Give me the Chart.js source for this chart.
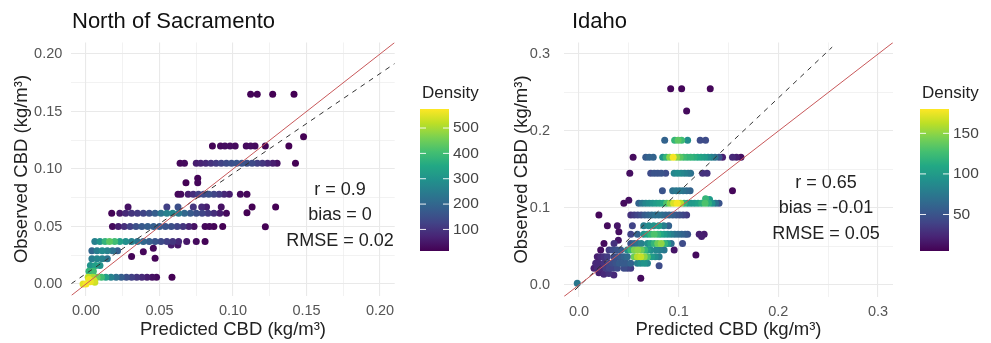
<!DOCTYPE html>
<html><head><meta charset="utf-8">
<script src="https://cdn.jsdelivr.net/npm/chart.js@4.4.1/dist/chart.umd.min.js"></script>
<style>
html,body{margin:0;padding:0;background:#fff;}
#wrap{position:relative;width:991px;height:343px;overflow:hidden;background:#fff;}
canvas{position:absolute;top:0;}
</style></head><body>
<div id="wrap">
<canvas id="c1" width="495" height="343" style="left:0;width:495px;height:343px"></canvas>
<canvas id="c2" width="496" height="343" style="left:495px;width:496px;height:343px"></canvas>
</div>
<script>
// ---------------- North of Sacramento ----------------
const nsTitle = 'North of Sacramento';
const nsStats = ['r = 0.9', 'bias = 0', 'RMSE = 0.02'];
const nsTicks = [0, 0.05, 0.10, 0.15, 0.20];
const nsLegendTicks = [100, 200, 300, 400, 500];
const nsDensityRange = [15, 575];
const nsOneToOne = [-0.01, 0.21];
const nsFitX = [-0.01, 0.21];
const nsFitY = [0.0003, 0.1917];
const nsPred = [
  0.112,0.1165,0.127,0.1415,
  0.148,
  0.086,0.0915,0.0945,0.098,0.1015,0.109,0.112,0.115,0.122,0.138,
  0.064,0.067,0.075,0.078,0.0815,0.085,0.0885,0.092,0.0955,0.099,0.1025,0.106,0.1095,0.113,0.1165,0.12,0.1235,0.127,0.130,0.1425,
  0.068,0.076,0.076,
  0.0626,0.0645,0.0695,0.073,0.0765,0.080,0.0835,0.087,0.0905,0.094,0.0975,0.105,0.1095,
  0.1095,0.113,0.129,0.122,
  0.0175,0.023,0.027,0.031,0.035,0.039,0.043,0.047,0.051,0.055,0.059,0.063,0.067,0.071,0.075,0.079,0.083,0.087,0.091,0.0955,
  0.0286,0.055,0.0626,0.073,0.0787,0.082,0.092,
  0.018,0.022,0.026,0.030,0.034,0.038,0.042,0.046,0.050,0.054,0.058,0.062,0.066,0.070,0.0735,0.081,0.084,0.087,0.093,
  0.006,0.0095,0.013,0.016,0.0195,0.023,0.027,0.031,0.035,0.039,0.043,0.047,0.051,0.055,0.059,0.063,0.0685,0.075,0.081,
  0.058,0.0625,
  0.004,0.0075,0.011,0.0145,0.018,0.0215,
  0.031,0.039,0.0458,0.047,
  0.004,0.0075,0.011,0.0145,
  0.003,0.0065,0.0095,
  0.002,0.005,
  0.0015,0.0045,0.0075,0.0105,0.0135,0.017,0.0205,0.024,0.0275,0.031,0.0345,0.038,0.0415,0.045,0.048,0.0585,
  -0.002,0.0,0.002,0.003,0.0055,0.006
];
const nsObs = [
  0.165,0.165,0.165,0.165,
  0.128,
  0.12,0.12,0.12,0.12,0.12,0.12,0.12,0.12,0.12,0.12,
  0.105,0.105,0.105,0.105,0.105,0.105,0.105,0.105,0.105,0.105,0.105,0.105,0.105,0.105,0.105,0.105,0.105,0.105,0.105,0.105,
  0.088,0.092,0.088,
  0.078,0.078,0.078,0.078,0.078,0.078,0.078,0.078,0.078,0.078,0.078,0.078,0.078,
  0.062,0.067,0.067,0.0498,
  0.0615,0.0615,0.0615,0.0615,0.0615,0.0615,0.0615,0.0615,0.0615,0.0615,0.0615,0.0615,0.0615,0.0615,0.0615,0.0615,0.0615,0.0615,0.0615,0.0615,
  0.067,0.067,0.067,0.067,0.067,0.067,0.067,
  0.050,0.050,0.050,0.050,0.050,0.050,0.050,0.050,0.050,0.050,0.050,0.050,0.050,0.050,0.050,0.050,0.050,0.050,0.050,
  0.037,0.037,0.037,0.037,0.037,0.037,0.037,0.037,0.037,0.037,0.037,0.037,0.037,0.037,0.037,0.037,0.037,0.037,0.037,
  0.034,0.034,
  0.029,0.029,0.029,0.029,0.029,0.029,
  0.024,0.028,0.031,0.0223,
  0.022,0.022,0.022,0.022,
  0.016,0.016,0.016,
  0.011,0.011,
  0.0058,0.0058,0.0058,0.0058,0.0058,0.0058,0.0058,0.0058,0.0058,0.0058,0.0058,0.0058,0.0058,0.0058,0.0058,0.0058,
  0.0,0.0,0.004,0.002,0.003,0.0015
];
const nsDensity = [
  20,20,15,12,
  10,
  20,30,35,35,30,30,35,30,20,12,
  25,30,60,70,80,95,110,125,140,150,160,160,150,140,120,100,80,60,40,15,
  15,20,25,
  25,30,60,90,120,140,150,130,110,80,60,30,25,
  15,15,12,10,
  20,50,80,100,110,130,150,180,230,260,270,240,200,170,150,130,110,90,60,30,
  40,120,150,100,80,60,40,
  30,60,90,120,150,170,180,180,170,160,150,130,100,70,40,25,25,20,12,
  260,300,380,430,400,330,290,260,230,200,180,160,140,120,100,80,50,30,20,
  60,50,
  200,250,280,260,220,180,
  20,25,25,20,
  250,270,260,230,
  300,330,300,
  380,400,
  520,500,450,400,330,260,220,180,150,120,100,80,60,40,30,12,
  550,570,560,560,540,530
];

// ---------------- Idaho ----------------
const idTitle = 'Idaho';
const idStats = ['r = 0.65', 'bias = -0.01', 'RMSE = 0.05'];
const idTicks = [0, 0.1, 0.2, 0.3];
const idLegendTicks = [50, 100, 150];
const idDensityRange = [5, 180];
const idOneToOne = [-0.015, 0.315];
const idFitX = [-0.004, 0.254];
const idFitY = [-0.0065, 0.309];
const idPred = [
  0.092,0.103,0.1317,0.108,
  0.086,0.096,0.0995,0.103,0.109,0.1216,0.127,
  0.0543,0.067,0.0705,0.0745,0.084,0.0875,0.091,0.0945,0.098,0.1015,0.105,0.1085,0.112,0.1155,0.119,0.1225,0.126,0.1295,0.133,0.1365,0.1405,0.144,0.154,0.158,0.1625,
  0.051,0.072,0.0755,0.079,0.0825,0.087,0.0955,0.099,0.1025,0.106,0.1095,0.112,0.124,0.1285,
  0.154,
  0.0837,0.094,0.0975,0.101,0.1045,0.108,0.1115,
  0.045,0.050,0.060,0.0635,0.067,0.0705,0.074,0.0775,0.081,0.0845,0.088,0.0915,0.095,0.0985,0.102,0.1055,0.109,0.1125,0.116,0.1195,0.123,0.1265,0.130,0.1335,0.137,0.1405,
  0.127,0.131,
  0.020,0.052,0.0555,0.059,0.0625,0.066,0.0695,0.073,0.0765,0.080,0.0835,0.087,0.0905,0.094,0.0975,0.101,0.1045,0.108,
  0.0285,0.0385,0.0536,0.065,0.070,0.075,0.080,0.085,0.090,
  0.040,0.052,0.0586,0.065,0.0687,0.072,0.0755,0.079,0.082,0.0855,0.089,0.0925,0.096,0.0995,0.103,0.1065,0.109,0.1206,0.1256,0.123,
  0.0251,0.0352,0.0395,0.052,0.0555,0.059,0.0625,0.0687,0.072,0.0755,0.079,0.0825,0.086,0.089,0.0925,0.1039,
  0.0218,0.0302,0.034,0.038,0.0419,0.0486,0.052,0.0555,0.059,0.0625,0.066,0.0687,0.072,0.0775,0.081,0.0854,0.0955,
  0.0184,0.0218,0.025,0.0285,0.0352,0.0385,0.042,0.0452,0.0486,0.0553,0.0586,0.062,0.0655,0.0687,0.073,0.0765,0.0804,0.1173,
  0.0168,0.0201,0.0251,0.0302,0.0335,0.037,0.0405,0.044,0.0475,0.0519,0.0586,0.062,0.0655,0.0687,0.0804,
  0.0151,0.0185,0.0218,0.027,0.0305,0.034,0.0385,0.0452,0.0486,0.0519,
  0.020,0.025,0.030,0.035,
  0.062,-0.0017
];
const idObs = [
  0.255,0.255,0.255,0.226,
  0.188,0.188,0.188,0.188,0.188,0.188,0.188,
  0.166,0.166,0.166,0.166,0.166,0.166,0.166,0.166,0.166,0.166,0.166,0.166,0.166,0.166,0.166,0.166,0.166,0.166,0.166,0.166,0.166,0.166,0.166,0.166,0.166,
  0.145,0.145,0.145,0.145,0.145,0.145,0.145,0.145,0.145,0.145,0.145,0.145,0.145,0.145,
  0.1225,
  0.1225,0.1225,0.1225,0.1225,0.1225,0.1225,0.1225,
  0.106,0.110,0.106,0.106,0.106,0.106,0.106,0.106,0.106,0.106,0.106,0.106,0.106,0.106,0.106,0.106,0.106,0.106,0.106,0.106,0.106,0.106,0.106,0.106,0.106,0.106,
  0.112,0.111,
  0.091,0.091,0.091,0.091,0.091,0.091,0.091,0.091,0.091,0.091,0.091,0.091,0.091,0.091,0.091,0.091,0.091,0.091,
  0.077,0.077,0.077,0.077,0.077,0.077,0.077,0.077,0.077,
  0.069,0.066,0.066,0.066,0.066,0.066,0.066,0.066,0.066,0.066,0.066,0.066,0.066,0.066,0.066,0.066,0.066,0.066,0.066,0.063,
  0.054,0.054,0.058,0.054,0.054,0.054,0.054,0.054,0.054,0.054,0.054,0.054,0.054,0.054,0.054,0.054,
  0.0455,0.0455,0.0455,0.0455,0.0455,0.0455,0.0455,0.0455,0.0455,0.0455,0.0455,0.0455,0.0455,0.0455,0.0455,0.0455,0.0455,
  0.0368,0.0368,0.0368,0.0368,0.0368,0.0368,0.0368,0.0368,0.0368,0.0368,0.0368,0.0368,0.0368,0.0368,0.0368,0.0368,0.0368,0.039,
  0.0282,0.0282,0.0282,0.0282,0.0282,0.0282,0.0282,0.0282,0.0282,0.0282,0.0282,0.0282,0.0282,0.0282,0.025,
  0.0217,0.0217,0.0217,0.0217,0.0217,0.0217,0.0217,0.0217,0.0217,0.0217,
  0.016,0.014,0.015,0.013,
  0.0087,0.0022
];
const idDensity = [
  8,8,8,10,
  60,120,135,125,90,45,45,
  10,55,60,60,95,120,150,178,150,135,125,120,120,115,110,105,100,90,80,70,50,20,25,20,12,
  12,45,50,50,50,45,85,90,85,80,75,70,30,30,
  8,
  50,70,75,75,70,65,60,
  10,12,60,75,85,90,95,100,105,110,130,150,170,178,160,120,100,95,100,105,115,130,115,95,70,50,
  120,100,
  8,30,35,40,45,55,60,65,70,70,65,60,60,55,50,45,40,35,
  10,15,40,80,90,95,100,80,60,
  12,40,60,95,110,120,130,120,110,100,90,80,70,65,60,55,50,20,18,20,
  10,30,15,50,60,70,80,90,105,120,140,150,120,100,70,45,
  12,35,45,50,55,90,120,145,150,140,120,100,90,85,80,75,15,
  20,25,30,35,45,50,55,60,65,140,160,165,150,130,100,90,80,10,
  25,25,30,40,45,50,55,55,55,60,80,90,95,85,45,
  20,25,25,35,40,40,45,45,40,35,
  20,25,30,25,
  10,75
];

// ---------------- styling helpers ----------------
const FONT = "'Liberation Sans', Arial, Helvetica, sans-serif";
Chart.defaults.font.family = FONT;
const VIR = ['#440154','#482475','#414487','#355f8d','#2a788e','#21918c','#22a884','#44bf70','#7ad151','#bddf26','#fde725'];
function hex(h){return [parseInt(h.slice(1,3),16),parseInt(h.slice(3,5),16),parseInt(h.slice(5,7),16)];}
function viridis(t){
  t = Math.max(0, Math.min(1, t));
  const p = t * (VIR.length - 1), i = Math.min(VIR.length - 2, Math.floor(p)), f = p - i;
  const a = hex(VIR[i]), b = hex(VIR[i+1]);
  return 'rgb(' + a.map((v,k)=>Math.round(v + (b[k]-v)*f)).join(',') + ')';
}

const decorPlugin = {
  id: 'decor',
  afterDraw(chart, args, o) {
    const ctx = chart.ctx;
    ctx.save();
    // panel title
    ctx.fillStyle = '#111';
    ctx.font = o.titleSize + 'px ' + FONT;
    ctx.textAlign = 'left'; ctx.textBaseline = 'middle';
    ctx.fillText(o.title, o.titleX, o.titleY);
    // statistics
    ctx.fillStyle = '#222';
    ctx.font = '18px ' + FONT;
    ctx.textAlign = 'center';
    o.stats.forEach((s, i) => ctx.fillText(s, o.statX, o.statY + i * o.statGap));
    // colour bar
    const cb = o.cbar;
    const g = ctx.createLinearGradient(0, cb.y + cb.h, 0, cb.y);
    for (let k = 0; k <= 20; k++) g.addColorStop(k/20, viridis(k/20));
    ctx.fillStyle = g;
    ctx.fillRect(cb.x, cb.y, cb.w, cb.h);
    ctx.fillStyle = '#222';
    ctx.font = '17px ' + FONT;
    ctx.textAlign = 'left';
    ctx.fillText('Density', cb.x + 2, cb.y - 16);
    ctx.font = '15.5px ' + FONT;
    ctx.fillStyle = '#444';
    cb.ticks.forEach(v => {
      const yy = cb.y + cb.h - (v - cb.min) / (cb.max - cb.min) * cb.h;
      ctx.strokeStyle = 'rgba(255,255,255,0.9)'; ctx.lineWidth = 1;
      ctx.beginPath();
      ctx.moveTo(cb.x, yy); ctx.lineTo(cb.x + 6, yy);
      ctx.moveTo(cb.x + cb.w - 6, yy); ctx.lineTo(cb.x + cb.w, yy);
      ctx.stroke();
      ctx.fillText(String(v), cb.x + cb.w + 4, yy);
    });
    ctx.restore();
  }
};

function makeChart(id, c) {
  const pts = c.pred.map((x, i) => ({x: x, y: c.obs[i], d: c.dens[i]}));
  pts.sort((a, b) => a.d - b.d);
  const cols = pts.map(p => viridis((p.d - c.drange[0]) / (c.drange[1] - c.drange[0])));
  const isMajor = v => Math.abs(v / c.major - Math.round(v / c.major)) < 1e-6;
  const grid = {
    color: '#e9e9e9',
    lineWidth: ctx => (ctx.tick && isMajor(ctx.tick.value)) ? 1.1 : 0.6,
    drawTicks: false
  };
  const tickFmt = v => isMajor(v) ? (Math.abs(v) < 1e-9 ? 0 : v).toFixed(c.dec) : '';
  new Chart(document.getElementById(id), {
    type: 'scatter',
    data: { datasets: [
      { data: c.one.map(v => ({x: v, y: v})), showLine: true, borderColor: '#c8585a', borderWidth: 1, pointRadius: 0, order: 0 },
      { data: c.fitX.map((v, i) => ({x: v, y: c.fitY[i]})), showLine: true, borderColor: '#333', borderWidth: 1, borderDash: [5, 5], pointRadius: 0, order: 0 },
      { data: pts, pointBackgroundColor: cols, pointBorderColor: cols, pointBorderWidth: 0, pointRadius: 3.5, pointHoverRadius: 3.5, order: 1 }
    ]},
    options: {
      responsive: false, animation: false, events: [],
      layout: { padding: { left: 0, right: c.padRight, top: 42.5, bottom: 0 } },
      plugins: { legend: { display: false }, tooltip: { enabled: false }, decor: c.decor },
      scales: {
        x: {
          type: 'linear', min: c.lim[0], max: c.lim[1],
          afterFit: s => { s.height = c.xH; },
          grid: grid, border: { display: false },
          ticks: { stepSize: c.step, autoSkip: false, includeBounds: false, padding: c.xPad, color: '#555', font: { size: 14.5 }, maxRotation: 0, callback: tickFmt },
          title: { display: true, text: 'Predicted CBD (kg/m³)', color: '#222', font: { size: 18.5 }, padding: { top: 0, bottom: 2 } }
        },
        y: {
          type: 'linear', min: c.lim[0], max: c.lim[1],
          afterFit: s => { s.width = c.yW; },
          grid: grid, border: { display: false },
          ticks: { stepSize: c.step, autoSkip: false, includeBounds: false, padding: c.yPad, color: '#555', font: { size: 14.5 }, callback: tickFmt },
          title: { display: true, text: 'Observed CBD (kg/m³)', color: '#222', font: { size: 18.5 }, padding: { top: c.yTitlePad, bottom: 0 } }
        }
      }
    },
    plugins: [decorPlugin]
  });
}

makeChart('c1', {
  pred: nsPred, obs: nsObs, dens: nsDensity, drange: nsDensityRange,
  one: nsOneToOne, fitX: nsFitX, fitY: nsFitY,
  lim: [-0.01, 0.21], step: 0.025, major: 0.05, dec: 2,
  padRight: 100.3, xH: 47.5, yW: 71.3, xPad: 7, yPad: 9, yTitlePad: 11,
  decor: { title: nsTitle, titleX: 72, titleY: 22, titleSize: 22,
    stats: nsStats, statX: 340, statY: 190, statGap: 25.5,
    cbar: { x: 420, y: 109, w: 29, h: 142, min: nsDensityRange[0], max: nsDensityRange[1], ticks: nsLegendTicks } }
});
makeChart('c2', {
  pred: idPred, obs: idObs, dens: idDensity, drange: idDensityRange,
  one: idOneToOne, fitX: idFitX, fitY: idFitY,
  lim: [-0.015, 0.315], step: 0.05, major: 0.1, dec: 1,
  padRight: 98, xH: 46.5, yW: 69, xPad: 6.5, yPad: 14, yTitlePad: 15.6,
  decor: { title: idTitle, titleX: 77, titleY: 22, titleSize: 22,
    stats: idStats, statX: 331, statY: 183, statGap: 25.5,
    cbar: { x: 425, y: 109, w: 29, h: 142, min: idDensityRange[0], max: idDensityRange[1], ticks: idLegendTicks } }
});
</script>
</body></html>
